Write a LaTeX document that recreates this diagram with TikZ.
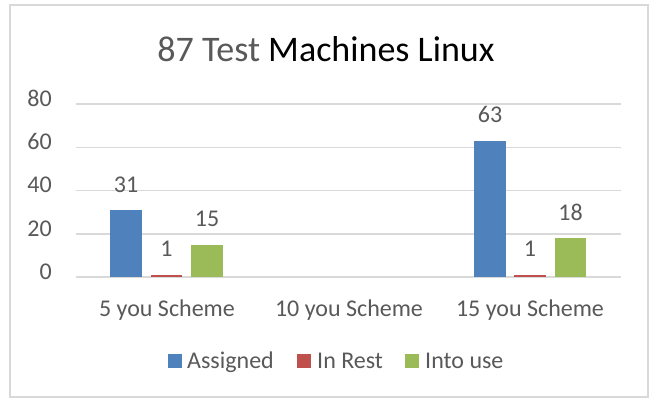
\documentclass[tikz,border=0pt]{standalone}
\usepackage{fontspec}
\setmainfont{Carlito}
\usepackage{xcolor}
\usepackage{tikz}

\definecolor{assigned}{HTML}{4F81BD}
\definecolor{inrest}{HTML}{C0504D}
\definecolor{intouse}{HTML}{9BBB59}
\definecolor{gridgray}{HTML}{D9D9D9}
\definecolor{txtgray}{HTML}{595959}

\begin{document}
\begin{tikzpicture}[x=1pt,y=-1pt,
    every node/.style={inner sep=0pt, text=txtgray, font=\fontsize{24}{28}\selectfont},
    tick/.style={anchor=mid east},
    val/.style={anchor=base},
    cat/.style={anchor=base}]
			\useasboundingbox (0,0) rectangle (651,399);
			\fill[white] (0,0) rectangle (651,399);
			\draw[gridgray, line width=1.2pt] (10,5) rectangle (648,397);
			% title
			\node[anchor=base, font=\fontsize{36}{40}\selectfont] (title) at (326,61) {87 Test \textcolor{black}{Machines Linux}};
			% grid lines
			\draw[gridgray, line width=1.5pt] (76,104) -- (621,104);
			\draw[gridgray, line width=1.5pt] (76,147.25) -- (621,147.25);
			\draw[gridgray, line width=1.5pt] (76,190.5) -- (621,190.5);
			\draw[gridgray, line width=1.5pt] (76,233.75) -- (621,233.75);
			\draw[gridgray, line width=1.5pt] (76,277) -- (621,277);
			\node[tick] (t80) at (52,104) {80};
			\node[tick] (t60) at (52,147.25) {60};
			\node[tick] (t40) at (52,190.5) {40};
			\node[tick] (t20) at (52,233.75) {20};
			\node[tick] (t0) at (52,277) {0};
			% bars
			\fill[assigned] (110,277) rectangle (142,210);
			\fill[inrest] (151,277) rectangle (182,274.8);
			\fill[intouse] (191,277) rectangle (223,244.6);
			\fill[assigned] (474,277) rectangle (506,140.8);
			\fill[inrest] (514,277) rectangle (546,274.8);
			\fill[intouse] (555,277) rectangle (586,238.1);
			% values
			\node[val] (v1a) at (126,192) {31};
			\node[val] (v1b) at (166.5,256.8) {1};
			\node[val] (v1c) at (207,226.6) {15};
			\node[val] (v3a) at (490,122.8) {63};
			\node[val] (v3b) at (530,256.8) {1};
			\node[val] (v3c) at (570.5,220.1) {18};
			% categories
			\node[cat] (c5) at (167,316) {5 you Scheme};
			\node[cat] (c10) at (349,316) {10 you Scheme};
			\node[cat] (c15) at (530,316) {15 you Scheme};
			% legend
			\fill[assigned] (168,354) rectangle (182,368);
			\node[anchor=base west] (lassigned) at (187,368) {Assigned};
			\fill[inrest] (297,354) rectangle (311,368);
			\node[anchor=base west] (lrest) at (317,368) {In Rest};
			\fill[intouse] (405,354) rectangle (419,368);
			\node[anchor=base west] (luse) at (425,368) {Into use};
		\end{tikzpicture}
\end{document}
